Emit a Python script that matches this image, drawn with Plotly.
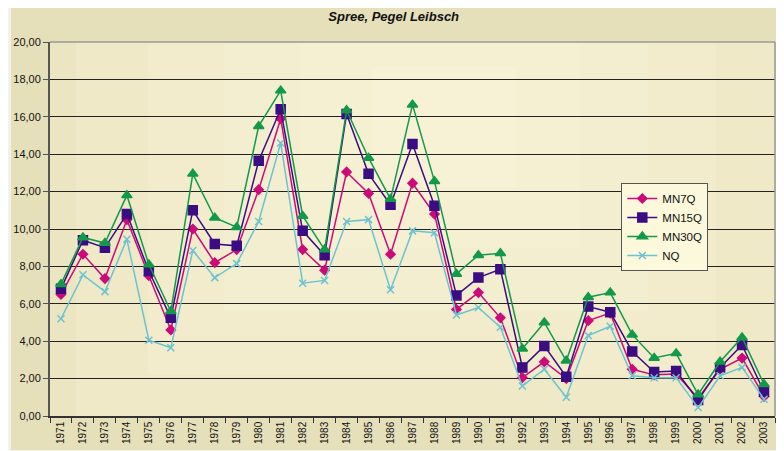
import plotly.graph_objects as go

years = [str(y) for y in range(1971, 2004)]

mn7q = [6.5, 8.65, 7.35, 10.5, 7.5, 4.6, 10.0, 8.2, 8.9, 12.1, 15.9, 8.9, 7.8,
        13.05, 11.9, 8.65, 12.45, 10.8, 5.7, 6.6, 5.25, 2.05, 2.9, 2.0, 5.1,
        5.5, 2.5, 2.2, 2.25, 0.95, 2.5, 3.1, 1.05]
mn15q = [6.8, 9.4, 9.0, 10.8, 7.75, 5.25, 11.0, 9.2, 9.1, 13.65, 16.4, 9.9, 8.6,
         16.15, 12.95, 11.3, 14.55, 11.25, 6.45, 7.4, 7.85, 2.6, 3.75, 2.1, 5.85,
         5.55, 3.45, 2.35, 2.4, 0.85, 2.6, 3.8, 1.3]
mn30q = [7.05, 9.55, 9.25, 11.8, 8.1, 5.6, 12.95, 10.6, 10.1, 15.5, 17.4, 10.7, 8.9,
         16.35, 13.8, 11.6, 16.65, 12.55, 7.6, 8.6, 8.7, 3.6, 5.0, 2.95, 6.35,
         6.6, 4.35, 3.1, 3.35, 1.15, 2.9, 4.2, 1.7]
nq = [5.2, 7.55, 6.65, 9.45, 4.05, 3.65, 8.85, 7.4, 8.15, 10.4, 14.6, 7.1, 7.25,
      10.4, 10.5, 6.75, 9.9, 9.8, 5.4, 5.8, 4.75, 1.6, 2.5, 1.0, 4.3,
      4.8, 2.15, 2.05, 2.05, 0.45, 2.15, 2.6, 0.9]

series = [
    ("MN7Q", mn7q, "#cc0a7a", "diamond", 7),
    ("MN15Q", mn15q, "#3b0c82", "square", 9),
    ("MN30Q", mn30q, "#12994a", "triangle-up", 9),
    ("NQ", nq, "#6cc3cf", "x-thin-open", 7),
]

fig = go.Figure()
for name, vals, col, sym, sz in series:
    fig.add_trace(go.Scatter(
        x=years, y=vals, name=name, mode="lines+markers",
        line=dict(color=col, width=1.5),
        marker=dict(symbol=sym, size=sz, color=col,
                    line=dict(color=col, width=1.5)),
    ))

# beige chart frame behind the plot
fig.add_shape(type="rect", xref="paper", yref="paper",
              x0=-0.0552, x1=1.0069, y0=-0.0936, y1=1.099,
              fillcolor="#e6e0ba", line=dict(color="#f4f2e6", width=2),
              layer="below")

# fake the soft radial gradient of the plot area with stacked light rects
cx, cy = 0.55, 0.78
for s in [1.0, 0.83, 0.67, 0.5, 0.33, 0.17]:
    fig.add_shape(type="rect", xref="paper", yref="paper",
                  x0=max(0, cx - 0.62 * s), x1=min(1, cx + 0.55 * s),
                  y0=max(0, cy - 1.0 * s), y1=min(1, cy + 0.9 * s),
                  fillcolor="#fdf9e0", opacity=0.2, line=dict(width=0),
                  layer="below")

# page body has an 8px margin, so the figure is a bit smaller than the window
fig.update_layout(
    width=776, height=443,
    margin=dict(l=42, r=9, t=34, b=35, autoexpand=False),
    paper_bgcolor="#eaf4fc",
    plot_bgcolor="#e3dcb4",
    separators=",.",
    font=dict(family="Liberation Sans, Arial, sans-serif", size=11, color="#111"),
    title=dict(text="<b><i>Spree, Pegel Leibsch</i></b>", x=0.497, xanchor="center",
               y=0.98, yanchor="middle", font=dict(size=13, color="#111")),
    showlegend=True,
    legend=dict(x=0.788, y=0.623, xanchor="left", yanchor="top",
                bgcolor="#fbf8dc", bordercolor="#555", borderwidth=1,
                font=dict(size=11.5), tracegroupgap=0, itemwidth=30),
    xaxis=dict(type="category", range=[-0.5, 32.5], tickangle=-90,
               showgrid=False, ticks="outside", tickson="boundaries",
               ticklen=5, tickcolor="#333", showline=True, linecolor="#333",
               linewidth=1.5, tickfont=dict(size=10), automargin=False),
    yaxis=dict(range=[0, 20], dtick=2, tickformat=".2f", showgrid=True,
               gridcolor="#222", gridwidth=1, ticks="outside", ticklen=5,
               tickcolor="#555", showline=True, linecolor="#555", linewidth=2,
               zeroline=False, tickfont=dict(size=11), automargin=False),
)

# gray right and top border of the plot area
fig.add_shape(type="line", xref="paper", yref="paper", x0=1, x1=1, y0=0, y1=1,
              line=dict(color="#999", width=1.5))
fig.add_shape(type="line", xref="paper", yref="paper", x0=0, x1=1, y0=1, y1=1,
              line=dict(color="#999", width=1.5))

fig.write_html("out.html")
